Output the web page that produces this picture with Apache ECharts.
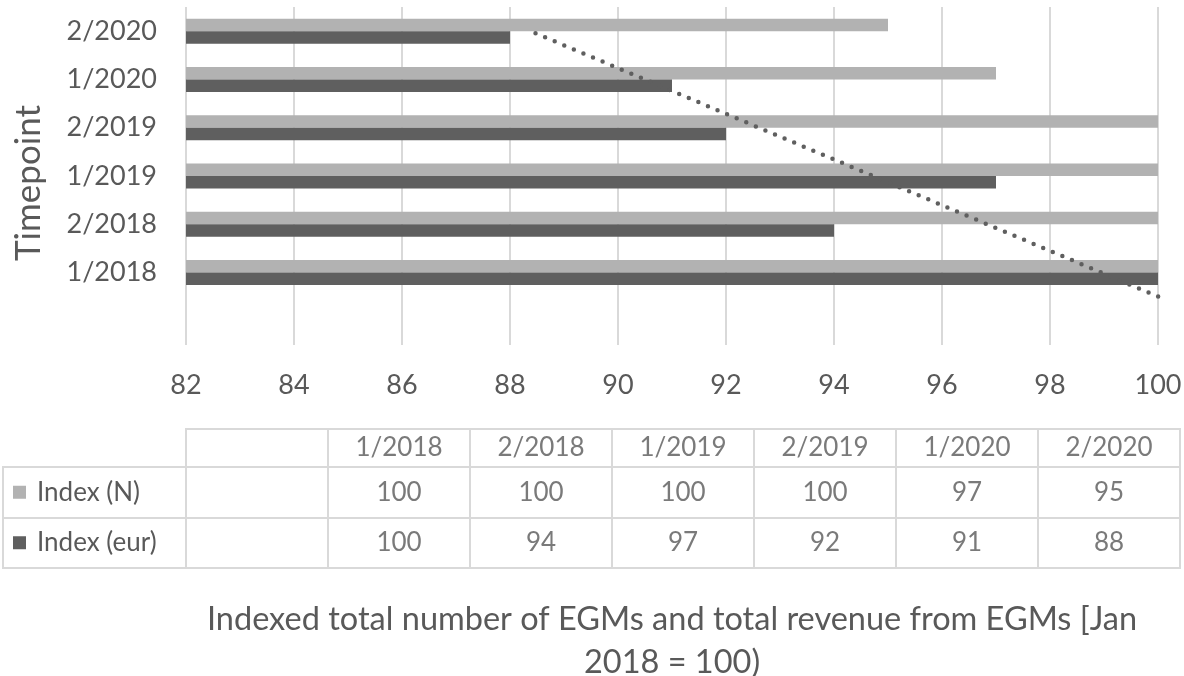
<!DOCTYPE html>
<html><head><meta charset="utf-8">
<script src="https://cdn.jsdelivr.net/npm/echarts@6/dist/echarts.min.js"></script>
<style>html,body{margin:0;padding:0;background:#fff}#c{width:1184px;height:676px}</style>
</head><body><div id="c"></div>
<script>
// ---- data ----
const categories = ['1/2018','2/2018','1/2019','2/2019','1/2020','2/2020'];
const indexN = [100,100,100,100,97,95];
const indexEur = [100,94,97,92,91,88];
const seriesNames = ['Index (N)','Index (eur)'];
const xMin = 82, xMax = 100, xInterval = 2;
const yAxisTitle = 'Timepoint';
const xAxisTitle = 'Indexed total number of EGMs and total revenue from EGMs [Jan\n2018 = 100)';

// ---- styles ----
const FONT = 'Lato';
const TXT = '#595959';
const LIGHT = '#b2b2b2';
const DARK = '#5f5f5f';
const GRIDC = '#d9d9d9';

// axis has a leading blank category (as in the original workbook)
const axisCats = [''].concat(categories);

// linear trendline of the eur series (x = 1..n)
const n = indexEur.length;
const xs = indexEur.map((_, i) => i + 1);
const mx = xs.reduce((a, b) => a + b, 0) / n;
const my = indexEur.reduce((a, b) => a + b, 0) / n;
let sxy = 0, sxx = 0;
xs.forEach((x, i) => { sxy += (x - mx) * (indexEur[i] - my); sxx += (x - mx) * (x - mx); });
const slope = sxy / sxx, icpt = my - slope * mx;
const trend = axisCats.map((_, i) => icpt + slope * i);

const chart = echarts.init(document.getElementById('c'));
const tickStyle = {fontFamily: FONT, fontSize: 27, color: TXT};
const cellStyle = {fontFamily: FONT, fontSize: 26, color: TXT};

const hiddenCat = (data, gridIndex, extra) => Object.assign({
  type: 'category', data, gridIndex,
  axisLine: {show: false}, axisTick: {show: false}, axisLabel: {show: false},
  splitLine: {show: true, interval: 0, lineStyle: {color: GRIDC, width: 2}}
}, extra || {});

chart.setOption({
  animation: false,
  textStyle: {fontFamily: FONT},
  grid: [
    {left: 186, right: 26, top: 7, height: 338, outerBoundsMode: 'none', containLabel: false},
    {left: 186, right: 4, top: 429, height: 38, show: true, borderColor: GRIDC, borderWidth: 2, outerBoundsMode: 'none'},
    {left: 186, right: 4, top: 467, height: 101, show: true, borderColor: GRIDC, borderWidth: 2, outerBoundsMode: 'none'},
    {left: 3, width: 183, top: 467, height: 101, show: true, borderColor: GRIDC, borderWidth: 2, outerBoundsMode: 'none'}
  ],
  xAxis: [
    {type: 'value', gridIndex: 0, min: xMin, max: xMax, interval: xInterval,
     axisLine: {show: false}, axisTick: {show: false},
     axisLabel: Object.assign({margin: 27}, tickStyle),
     splitLine: {show: true, lineStyle: {color: GRIDC, width: 2}},
     name: xAxisTitle, nameLocation: 'middle', nameGap: 253,
     nameTextStyle: {fontFamily: FONT, fontSize: 32.5, color: TXT, lineHeight: 43}},
    hiddenCat(axisCats, 1),
    hiddenCat(axisCats, 2),
    hiddenCat(['x'], 3, {splitLine: {show: false}})
  ],
  yAxis: [
    {type: 'category', gridIndex: 0, data: axisCats,
     axisLine: {show: false}, axisTick: {show: false},
     axisLabel: Object.assign({margin: 29, interval: 0}, tickStyle),
     name: yAxisTitle, nameLocation: 'middle', nameGap: 140,
     nameTextStyle: {fontFamily: FONT, fontSize: 35, color: TXT, padding: [0, 14, 0, 0]}},
    hiddenCat(['h'], 1, {splitLine: {show: false}}),
    hiddenCat(seriesNames, 2, {inverse: true}),
    {type: 'category', gridIndex: 3, data: seriesNames, inverse: true,
     axisLine: {show: false}, axisTick: {show: false},
     splitLine: {show: true, interval: 0, lineStyle: {color: GRIDC, width: 2}},
     axisLabel: {inside: true, margin: 10, interval: 0,
       formatter: (v, i) => '{s' + i + '|}{t|' + v + '}',
       rich: {
         s0: {width: 13, height: 13, backgroundColor: LIGHT},
         s1: {width: 13, height: 13, backgroundColor: DARK},
         t: {fontFamily: FONT, fontSize: 26, color: TXT, padding: [0, 0, 0, 11]}
       }}}
  ],
  series: [
    {name: seriesNames[0], type: 'bar', xAxisIndex: 0, yAxisIndex: 0,
     data: [null].concat(indexN), barWidth: 12.5, barGap: '0%',
     itemStyle: {color: LIGHT}},
    {name: seriesNames[1], type: 'bar', xAxisIndex: 0, yAxisIndex: 0,
     data: [null].concat(indexEur), barWidth: 12.5, barGap: '0%',
     itemStyle: {color: DARK}},
    {name: 'trend', type: 'line', xAxisIndex: 0, yAxisIndex: 0, data: trend,
     symbol: 'none', z: 5, silent: true, clip: true,
     lineStyle: {color: DARK, width: 4.5, type: [0, 10.4], cap: 'round'}},
    {type: 'scatter', xAxisIndex: 1, yAxisIndex: 1, symbolSize: 1,
     itemStyle: {color: 'rgba(0,0,0,0)'}, silent: true,
     data: categories.map(c => [c, 'h']),
     label: Object.assign({show: true, position: 'inside', formatter: p => p.value[0]}, cellStyle)},
    {type: 'scatter', xAxisIndex: 2, yAxisIndex: 2, symbolSize: 1,
     itemStyle: {color: 'rgba(0,0,0,0)'}, silent: true,
     data: categories.map((c, i) => [c, seriesNames[0], indexN[i]])
       .concat(categories.map((c, i) => [c, seriesNames[1], indexEur[i]])),
     label: Object.assign({show: true, position: 'inside', formatter: p => String(p.value[2])}, cellStyle)}
  ]
});
</script></body></html>
